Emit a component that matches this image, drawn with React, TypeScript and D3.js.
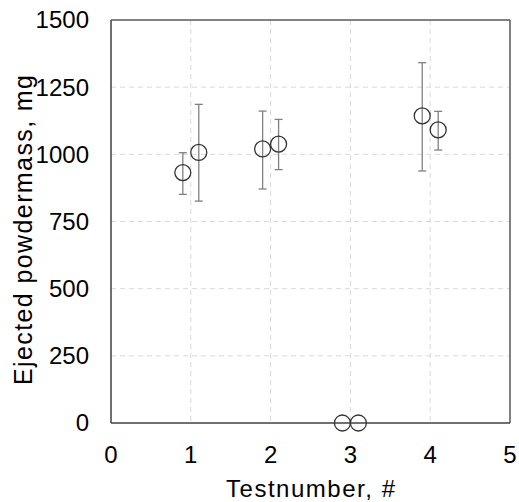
import React from "react";
import * as d3 from "d3";

const xs = [0.9, 1.1, 1.9, 2.1, 2.9, 3.1, 3.9, 4.1];
const means = [932, 1007, 1020, 1038, 0, 0, 1143, 1091];
const lows = [851, 826, 871, 943, 0, 0, 938, 1016];
const highs = [1006, 1186, 1161, 1130, 0, 0, 1341, 1160];
const xTicks = [0, 1, 2, 3, 4, 5];
const yTicks = [0, 250, 500, 750, 1000, 1250, 1500];

const W = 519, H = 502;
const L = 111, R = 510, T = 20, B = 423;

export default function App() {
  const x = d3.scaleLinear().domain([0, 5]).range([L, R]);
  const y = d3.scaleLinear().domain([0, 1500]).range([B, T]);
  const font = "'Liberation Sans', Arial, sans-serif";
  return (
    <svg width={W} height={H} style={{ position: "absolute", left: 0, top: 0 }}>
      <rect width={W} height={H} fill="#fff" />
      {xTicks.slice(1, -1).map((t) => (
        <line key={"gx" + t} x1={x(t)} x2={x(t)} y1={T} y2={B} stroke="#d9d9d9" strokeDasharray="5,4" strokeWidth={1} />
      ))}
      {yTicks.slice(1, -1).map((t) => (
        <line key={"gy" + t} x1={L} x2={R} y1={y(t)} y2={y(t)} stroke="#d9d9d9" strokeDasharray="5,4" strokeWidth={1} />
      ))}
      <line x1={L} x2={R} y1={T} y2={T} stroke="#595959" strokeWidth={1.5} />
      <line x1={R} x2={R} y1={T} y2={B} stroke="#595959" strokeWidth={1.5} />
      <line x1={L} x2={L} y1={T} y2={B} stroke="#404040" strokeWidth={1.5} />
      <line x1={L} x2={R} y1={B} y2={B} stroke="#404040" strokeWidth={1.5} />
      {xs.map((v, i) =>
        highs[i] > lows[i] ? (
          <g key={"e" + i} stroke="#808080" strokeWidth={1.3}>
            <line x1={x(v)} x2={x(v)} y1={y(highs[i])} y2={y(lows[i])} />
            <line x1={x(v) - 4} x2={x(v) + 4} y1={y(highs[i])} y2={y(highs[i])} />
            <line x1={x(v) - 4} x2={x(v) + 4} y1={y(lows[i])} y2={y(lows[i])} />
          </g>
        ) : null
      )}
      {xs.map((v, i) => (
        <circle key={"c" + i} cx={x(v)} cy={y(means[i])} r={8} fill="none" stroke="#333" strokeWidth={1.3} />
      ))}
      {yTicks.map((t) => (
        <text key={"yl" + t} x={89} y={y(t)} dy="0.35em" textAnchor="end" fontFamily={font} fontSize={24} fill="#000">
          {t}
        </text>
      ))}
      {xTicks.map((t) => (
        <text key={"xl" + t} x={x(t)} y={463} textAnchor="middle" fontFamily={font} fontSize={24} fill="#000">
          {t}
        </text>
      ))}
      <text x={310.5} y={497} textAnchor="middle" fontFamily={font} fontSize={24} fill="#000" textLength={169} lengthAdjust="spacing">
        Testnumber, #
      </text>
      <text transform={`translate(32,230) rotate(-90)`} textAnchor="middle" fontFamily={font} fontSize={25} fill="#000" textLength={310} lengthAdjust="spacing">
        Ejected powdermass, mg
      </text>
    </svg>
  );
}
